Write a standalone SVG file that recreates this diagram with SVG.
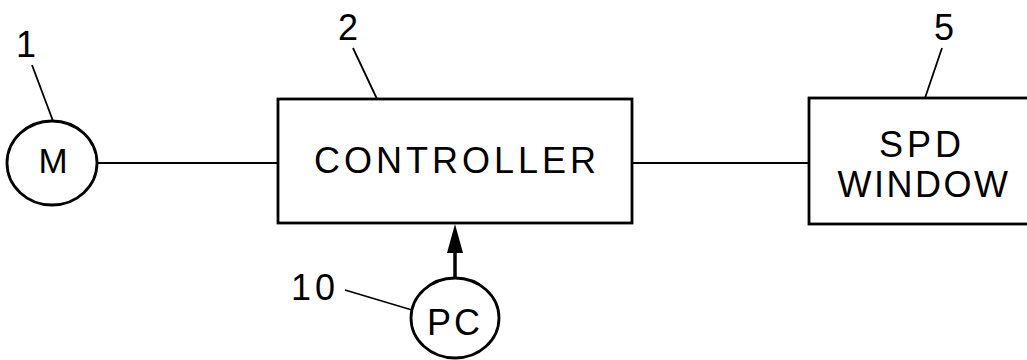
<svg xmlns="http://www.w3.org/2000/svg" width="1027" height="360" viewBox="0 0 1027 360">
<defs>
<style>
.s{fill:none;stroke:#000;stroke-width:2.8}
.l{fill:none;stroke:#000;stroke-width:1.8}
.t{font-family:"Liberation Sans",Arial,sans-serif;fill:#000}
.big{font-size:36px;letter-spacing:4px}
.num{font-size:36px}
</style>
</defs>
<rect width="1027" height="360" fill="#fff"/>
<g id="connectors">
<line class="l" x1="97" y1="163" x2="278" y2="163"/>
<line class="l" x1="632" y1="163" x2="809" y2="163"/>
<line x1="455" y1="278" x2="455" y2="253" stroke="#000" stroke-width="3.5"/>
<path d="M447,253 L455,224 L463,253 Z" fill="#000"/>
</g>
<g id="node-motor">
<ellipse class="s" cx="52" cy="163" rx="45" ry="42"/>
<text class="t" x="53" y="173" font-size="35" text-anchor="middle">M</text>
<text class="t num" x="26" y="57" text-anchor="middle">1</text>
<line class="l" x1="32" y1="65" x2="53" y2="121"/>
</g>
<g id="node-controller">
<rect class="s" x="278" y="99" width="354" height="124"/>
<text class="t big" x="457" y="173" text-anchor="middle">CONTROLLER</text>
<text class="t num" x="348" y="40" text-anchor="middle">2</text>
<line class="l" x1="353" y1="48" x2="377" y2="99"/>
</g>
<g id="node-spd">
<rect class="s" x="809" y="98" width="230" height="126"/>
<text class="t big" x="922" y="157" text-anchor="middle">SPD</text>
<text class="t" x="924" y="197" font-size="36" letter-spacing="2.5" text-anchor="middle">WINDOW</text>
<text class="t num" x="944" y="40" text-anchor="middle">5</text>
<line class="l" x1="942" y1="48" x2="925" y2="98"/>
</g>
<g id="node-pc">
<ellipse class="s" cx="455" cy="318" rx="44" ry="40"/>
<text class="t" x="455" y="335" font-size="36" letter-spacing="3" text-anchor="middle">PC</text>
<text class="t num" x="315" y="300" letter-spacing="4" text-anchor="middle">10</text>
<line class="l" x1="345" y1="290" x2="412" y2="310"/>
</g>
</svg>
